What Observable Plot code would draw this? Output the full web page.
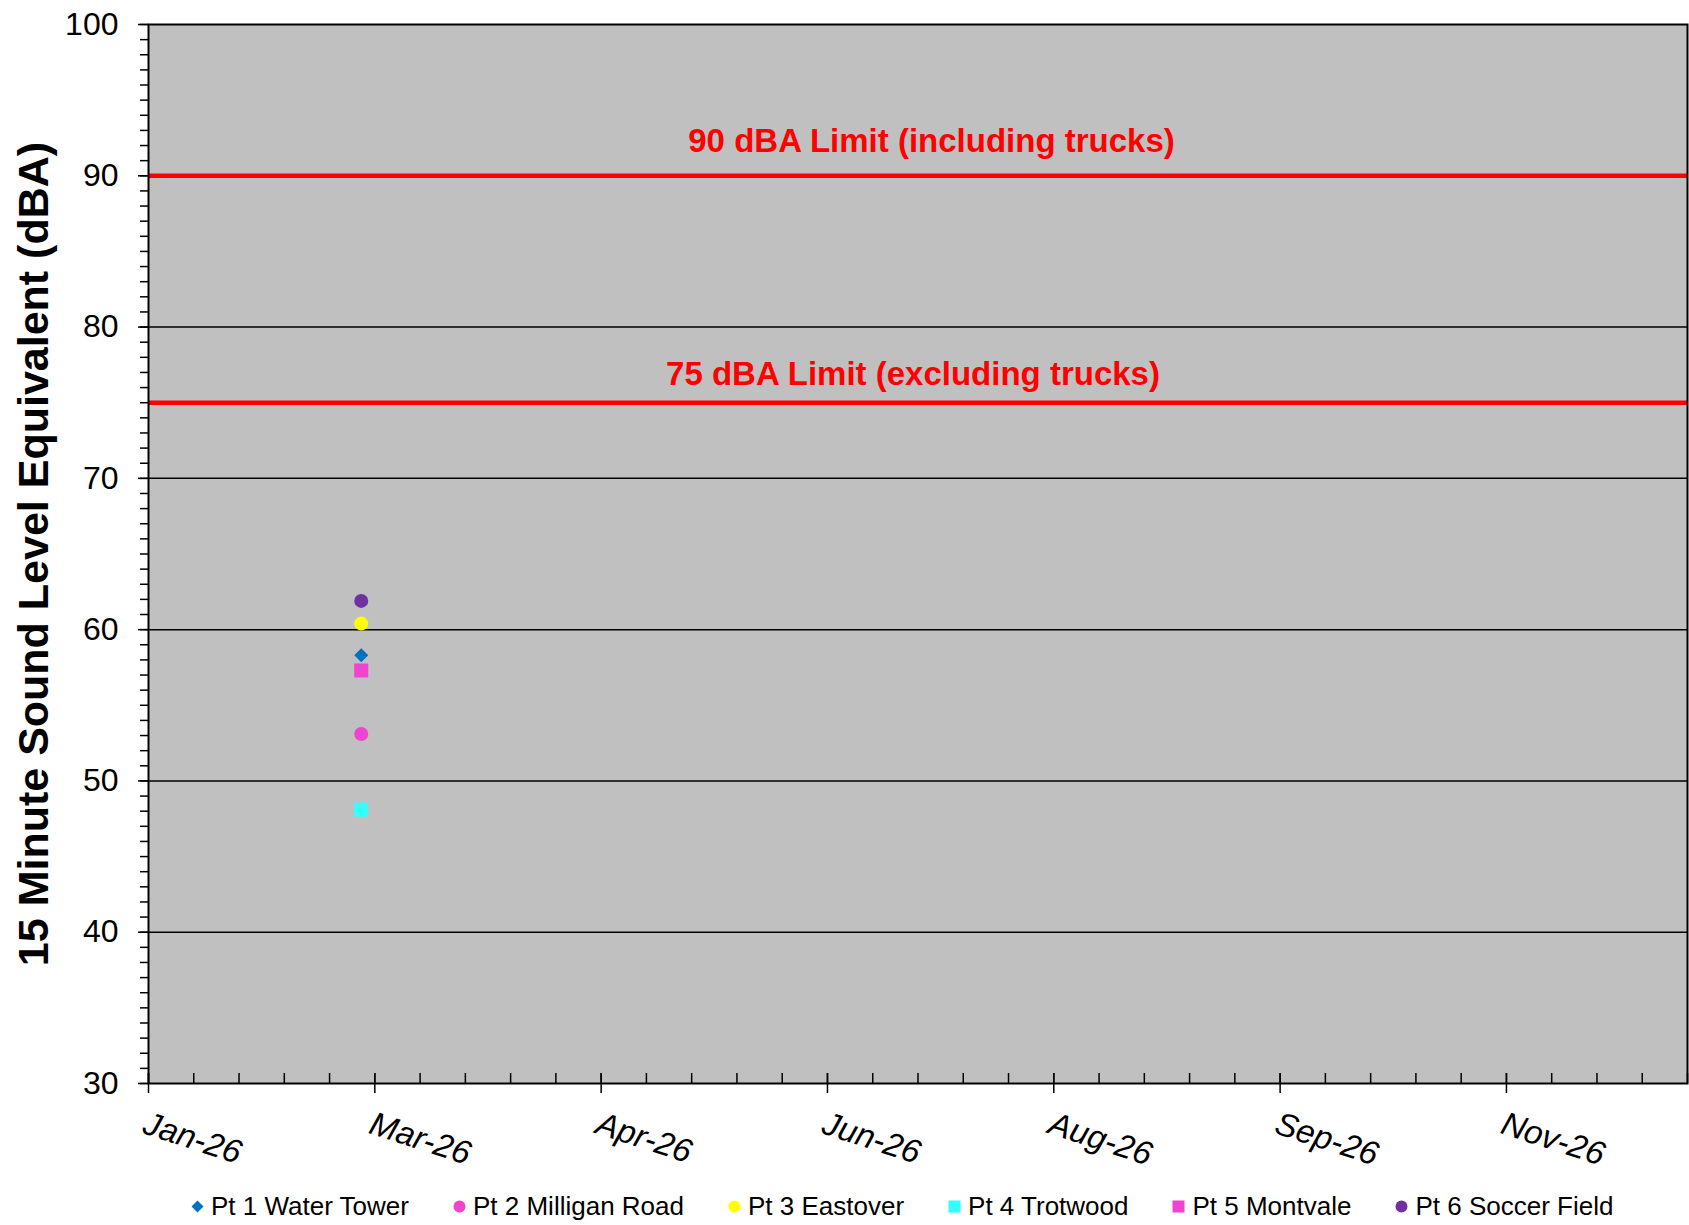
<!DOCTYPE html>
<html>
<head>
<meta charset="utf-8">
<script src="https://cdn.jsdelivr.net/npm/d3@7"></script>
<script src="https://cdn.jsdelivr.net/npm/@observablehq/plot@0.6"></script>
<style>
  html, body { margin: 0; padding: 0; background: #ffffff; }
  body { width: 1689px; font-family: Arial, "Liberation Sans", sans-serif; }
  #chart svg { display: block; }
  g[aria-label="x-axis tick label"] { font-style: italic; }
  #legend { height: 72px; display: flex; align-items: center; padding-left: 191px; gap: 44px; font-size: 26px; color: #000; }
  .item { display: flex; align-items: center; gap: 7px; white-space: nowrap; }
  .item svg { display: block; }
</style>
</head>
<body>
<div id="chart"></div>
<div id="legend"></div>
<script>
// ---- data ----
const sites = ["Pt 1 Water Tower", "Pt 2 Milligan Road", "Pt 3 Eastover", "Pt 4 Trotwood", "Pt 5 Montvale", "Pt 6 Soccer Field"];
const sampleDates = ["2026-03-03", "2026-03-03", "2026-03-03", "2026-03-03", "2026-03-03", "2026-03-03"];
const soundLevels = [58.3, 53.1, 60.4, 48.1, 57.3, 61.9];
const siteColors = ["#0070C0", "#F043D0", "#FFFF00", "#33FFFF", "#F043D0", "#7030A0"];
const siteSymbols = ["diamond2", "circle", "circle", "square", "square", "circle"];

const limitValues = [90, 75];
const limitLabels = ["90 dBA Limit (including trucks)", "75 dBA Limit (excluding trucks)"];

const xDomain = ["2026-01-15", "2026-12-21"];
const xMajorTicks = ["2026-01-15", "2026-03-06", "2026-04-25", "2026-06-14", "2026-08-03", "2026-09-22", "2026-11-11"];
const xTickLabels = ["Jan-26", "Mar-26", "Apr-26", "Jun-26", "Aug-26", "Sep-26", "Nov-26"];
const yDomain = [30, 100];
const yMajorTicks = [30, 40, 50, 60, 70, 80, 90, 100];
const gridValues = [40, 50, 60, 70, 80];
const yTitle = "15 Minute Sound Level Equivalent (dBA)";

// ---- derived ----
const parse = d3.utcParse("%Y-%m-%d");
const majorDates = xMajorTicks.map(parse);
const domainDates = xDomain.map(parse);
const minorDates = d3.utcDay.range(domainDates[0], d3.utcDay.offset(domainDates[1], 1), 10);
const yMinor = d3.range(yDomain[0], yDomain[1] + 1, 1);
const labelFor = new Map(majorDates.map((d, i) => [+d, xTickLabels[i]]));

const rows = sites.map((s, i) => ({site: s, date: parse(sampleDates[i]), value: soundLevels[i], color: siteColors[i], symbol: siteSymbols[i]}));
const symbolR = {circle: 7, square: 7.9, diamond2: 6.3};

const W = 1689, H = 1170;

const plot = Plot.plot({
  width: W,
  height: H,
  marginLeft: 148,
  marginRight: 2,
  marginTop: 24,
  marginBottom: 87,
  style: {fontFamily: "Arial, 'Liberation Sans', sans-serif", color: "#000", background: "#fff", overflow: "visible"},
  x: {type: "utc", domain: domainDates},
  y: {domain: yDomain},
  marks: [
    Plot.frame({fill: "#C0C0C0"}),
    Plot.ruleY(gridValues, {stroke: "#000", strokeWidth: 1.5}),
    Plot.ruleY(limitValues, {stroke: "#FF0000", strokeWidth: 4.5}),
    Plot.text([limitValues[0]], {y: d => d, text: () => limitLabels[0], frameAnchor: "middle", dx: 13.5, dy: -23.5, lineAnchor: "bottom", fill: "#FF0000", fontSize: 33, fontWeight: "bold"}),
    Plot.text([limitValues[1]], {y: d => d, text: () => limitLabels[1], frameAnchor: "middle", dx: -5, dy: -18, lineAnchor: "bottom", fill: "#FF0000", fontSize: 33, fontWeight: "bold"}),
    // y axis
    Plot.axisY({ticks: yMinor, tickSize: 8, text: null, strokeWidth: 1.5, label: null}),
    Plot.axisY({ticks: yMajorTicks, tickSize: 10, tickPadding: 20, fontSize: 32, strokeWidth: 1.5, label: null}),
    Plot.text([yTitle], {text: d => d, frameAnchor: "left", dx: -114, rotate: -90, fontSize: 43, fontWeight: "bold", textAnchor: "middle", lineAnchor: "middle"}),
    // x axis
    Plot.ruleX(minorDates, {x: d => d, y1: yDomain[0], y2: yDomain[0], insetBottom: 10, stroke: "#000", strokeWidth: 1.5}),
    Plot.ruleX(majorDates, {x: d => d, y1: yDomain[0], y2: yDomain[0], insetBottom: 10, stroke: "#000", strokeWidth: 1.5}),
    Plot.axisX({ticks: majorDates, tickSize: 10, text: null, strokeWidth: 1.5, label: null}),
    Plot.axisX({ticks: majorDates, tickSize: 0, tickPadding: 27, tickRotate: 18, textAnchor: "start", lineAnchor: "top", fontSize: 33, tickFormat: d => labelFor.get(+d), label: null}),
    // data points
    ...rows.map(r => Plot.dot([r], {x: "date", y: "value", symbol: () => r.symbol, r: symbolR[r.symbol], fill: r.color, stroke: "none"})),
    Plot.frame({stroke: "#000", strokeWidth: 2})
  ]
});
document.getElementById("chart").appendChild(plot);

// legend
const legend = document.getElementById("legend");
const legendSymbol = {
  circle: c => `<circle cx="6.5" cy="6.5" r="6" fill="${c}"/>`,
  square: c => `<rect x="0.5" y="0.5" width="12" height="12" fill="${c}"/>`,
  diamond2: c => `<path d="M6.5 0.5 L12.5 6.5 L6.5 12.5 L0.5 6.5 Z" fill="${c}"/>`
};
sites.forEach((s, i) => {
  const el = document.createElement("div");
  el.className = "item";
  el.innerHTML = `<svg width="13" height="13" viewBox="0 0 13 13">${legendSymbol[siteSymbols[i]](siteColors[i])}</svg><span>${s}</span>`;
  legend.appendChild(el);
});
</script>
</body>
</html>
